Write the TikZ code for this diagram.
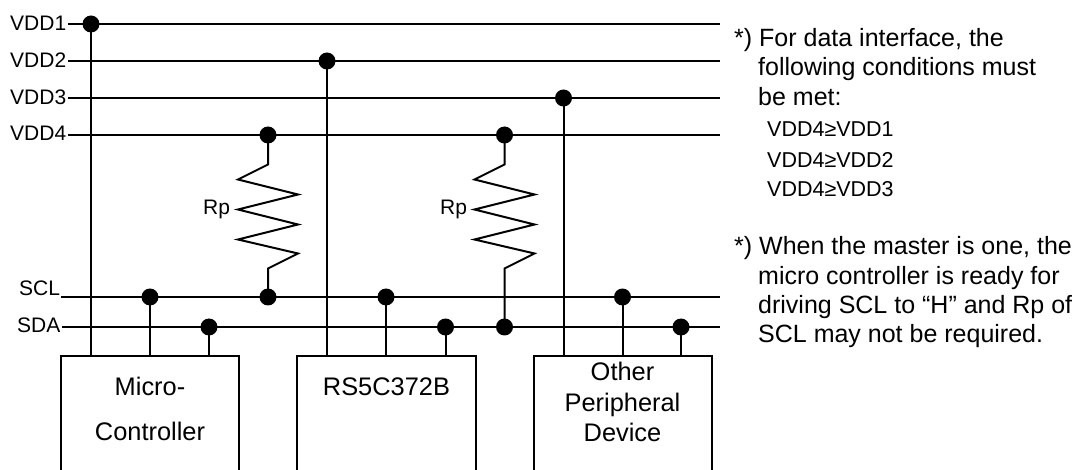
\documentclass[tikz,border=0pt]{standalone}
\usepackage{fontspec}
\setmainfont{Liberation Sans}
\tikzset{
  x=1pt,y=-1pt,
  wire/.style={line width=2pt,black},
  boxedge/.style={line width=1.5pt,black},
  junction/.style={circle,fill=black,draw=none,minimum size=17pt,inner sep=0pt},
  rail/.style={inner sep=0pt,anchor=base west,font=\fontsize{21}{21}\selectfont},
  note/.style={inner sep=0pt,anchor=base west,font=\fontsize{25}{25}\selectfont},
  cond/.style={inner sep=0pt,anchor=base west,font=\fontsize{21.5}{21.5}\selectfont},
  boxtext/.style={inner sep=0pt,anchor=base,font=\fontsize{25.4}{25.4}\selectfont},
}
\newcommand{\zigzag}[2]{%
  \draw[wire,line join=miter] (#1) -- ++(0,29.5) -- ++(-30,15) -- ++(60,15) -- ++(-60,15) -- ++(60,15) -- ++(-60,15) -- ++(60,14) -- ++(-30,15) -- (#2);}
\begin{document}
\begin{tikzpicture}
\useasboundingbox (0,0) rectangle (1074,470);
% rail labels
\node[rail] (lv1) at (10,30.5) {VDD1};
\node[rail] (lv2) at (10,67.5) {VDD2};
\node[rail] (lv3) at (10,104.5) {VDD3};
\node[rail] (lv4) at (10,141) {VDD4};
\node[rail] (lscl) at (19,295.5) {SCL};
\node[rail] (lsda) at (17,333) {SDA};
% rail ends
\coordinate (s1) at (68,24);   \coordinate (e1) at (720,24);
\coordinate (s2) at (68,61);   \coordinate (e2) at (720,61);
\coordinate (s3) at (68,98);   \coordinate (e3) at (720,98);
\coordinate (s4) at (68,135);  \coordinate (e4) at (720,135);
\coordinate (sc) at (61,297);  \coordinate (ec) at (720,297);
\coordinate (sd) at (62,327);  \coordinate (ed) at (720,327);
\foreach \a/\b in {s1/e1,s2/e2,s3/e3,s4/e4,sc/ec,sd/ed}{\draw[wire] (\a) -- (\b);}
% boxes (open at the bottom)
\coordinate (b1a) at (61,470);  \coordinate (b1b) at (61,356);  \coordinate (b1c) at (239,356); \coordinate (b1d) at (239,470);
\coordinate (b2a) at (297,470); \coordinate (b2b) at (297,356); \coordinate (b2c) at (476,356); \coordinate (b2d) at (476,470);
\coordinate (b3a) at (534,470); \coordinate (b3b) at (534,356); \coordinate (b3c) at (712,356); \coordinate (b3d) at (712,470);
\draw[boxedge] (b1a) -- (b1b) -- (b1c) -- (b1d);
\draw[boxedge] (b2a) -- (b2b) -- (b2c) -- (b2d);
\draw[boxedge] (b3a) -- (b3b) -- (b3c) -- (b3d);
% junctions
\node[junction] (v1) at (91,24) {};
\node[junction] (v2) at (327,61) {};
\node[junction] (v3) at (563.5,98) {};
\node[junction] (r1t) at (268,135) {};
\node[junction] (r2t) at (504.5,135) {};
\node[junction] (c1) at (150,297) {};
\node[junction] (r1b) at (268,297) {};
\node[junction] (c2) at (386,297) {};
\node[junction] (c3) at (622.5,297) {};
\node[junction] (d1) at (209,327) {};
\node[junction] (d2) at (445.5,327) {};
\node[junction] (r2b) at (504.5,327) {};
\node[junction] (d3) at (681,327) {};
% pins
\coordinate (p1) at (91,356);
\coordinate (p2) at (150,356);
\coordinate (p3) at (209,356);
\coordinate (p4) at (327,356);
\coordinate (p5) at (386,356);
\coordinate (p6) at (445.5,356);
\coordinate (p7) at (563.5,356);
\coordinate (p8) at (622.5,356);
\coordinate (p9) at (681,356);
\foreach \a/\b in {v1/p1,c1/p2,d1/p3,v2/p4,c2/p5,d2/p6,v3/p7,c3/p8,d3/p9}{\draw[wire] (\a.center) -- (\b);}
% resistors
\zigzag{r1t.center}{r1b.center}
\zigzag{r2t.center}{r2b.center}
\node[rail] (rp1) at (203,215) {Rp};
\node[rail] (rp2) at (440,215) {Rp};
% box labels
\node[boxtext] (m1) at (150,395.7) {Micro-};
\node[boxtext] (m2) at (150,440) {Controller};
\node[boxtext] (rs) at (386.5,395.7) {RS5C372B};
\node[boxtext] (o1) at (622.5,381) {Other};
\node[boxtext] (o2) at (622.5,411.7) {Peripheral};
\node[boxtext] (o3) at (622.5,441.7) {Device};
% notes
\node[note] (n1) at (734,46.5) {*)};
\node[note] (n2) at (759,46.5) {For data interface, the};
\node[note] (n3) at (758,76) {following conditions must};
\node[note] (n4) at (758,106) {be met:};
\node[cond] (n5) at (767,137) {VDD4≥VDD1};
\node[cond] (n6) at (767,167.5) {VDD4≥VDD2};
\node[cond] (n7) at (767,197) {VDD4≥VDD3};
\node[note] (n8) at (734,255) {*)};
\node[note] (n9) at (759,255) {When the master is one, the};
\node[note] (n10) at (758,285) {micro controller is ready for};
\node[note] (n11) at (758,313.5) {driving SCL to “H” and Rp of};
\node[note] (n12) at (758,343) {SCL may not be required.};
\end{tikzpicture}
\end{document}
